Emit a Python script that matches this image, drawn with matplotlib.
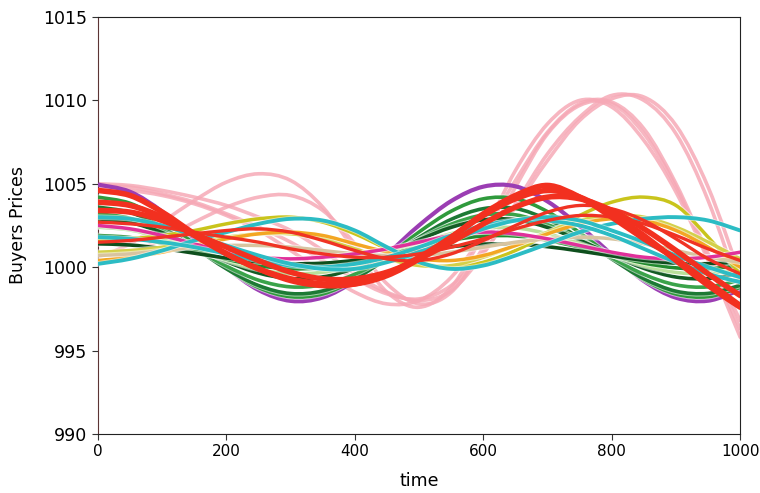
import matplotlib
matplotlib.use("Agg")
import matplotlib.pyplot as plt
import matplotlib.patheffects as pe
from matplotlib.path import Path
from matplotlib.patches import PathPatch

time = [0, 50, 100, 150, 200, 250, 300, 350, 400, 450, 500,
        550, 600, 650, 700, 750, 800, 850, 900, 950, 1000]

# pink, large swings
pink_1 = [1000.6, 1001.4, 1002.7, 1004.0, 1005.1, 1005.6, 1005.2, 1003.6, 1001.0, 998.5, 997.6,
          998.8, 1002.0, 1005.8, 1008.6, 1010.0, 1009.6, 1007.6, 1004.5, 1000.4, 995.8]
pink_2 = [1000.3, 1000.8, 1001.7, 1002.7, 1003.6, 1004.2, 1004.3, 1003.4, 1001.4, 999.0, 997.8,
          998.5, 1001.2, 1004.8, 1008.0, 1009.7, 1009.8, 1008.0, 1004.8, 1000.6, 996.3]
pink_3 = [1005.0, 1004.9, 1004.6, 1004.2, 1003.7, 1003.0, 1002.2, 1001.0, 999.6, 998.5, 998.0,
          998.6, 1000.8, 1003.8, 1006.8, 1009.0, 1010.3, 1010.0, 1008.0, 1004.0, 998.5]
pink_4 = [1004.7, 1004.6, 1004.3, 1003.8, 1003.1, 1002.2, 1001.0, 999.7, 998.5, 997.8, 998.0,
          999.4, 1002.0, 1005.2, 1008.1, 1009.8, 1009.9, 1008.3, 1005.0, 1000.8, 996.8]
pink_5 = [1004.9, 1004.8, 1004.4, 1003.9, 1003.2, 1002.4, 1001.5, 1000.4, 999.3, 998.4, 998.1,
          998.9, 1000.9, 1003.6, 1006.4, 1008.8, 1010.1, 1010.2, 1008.5, 1004.8, 999.5]

purple = [1004.95, 1004.52, 1003.33, 1001.68, 999.97, 998.63, 997.98, 998.19, 999.20, 1000.77, 1002.51,
          1003.97, 1004.83, 1004.85, 1003.94, 1002.47, 1000.76, 999.17, 998.17, 997.99, 998.64]

green_1 = [1003.6, 1003.28, 1002.40, 1001.17, 999.90, 998.90, 998.42, 998.58, 999.33, 1000.50, 1001.79,
           1002.87, 1003.51, 1003.52, 1002.85, 1001.75, 1000.49, 999.31, 998.56, 998.43, 998.91]
green_2 = [1003.2, 1002.93, 1002.18, 1001.15, 1000.07, 999.22, 998.82, 998.95, 999.58, 1000.58, 1001.66,
           1002.58, 1003.13, 1003.14, 1002.56, 1001.64, 1000.57, 999.57, 998.94, 998.82, 999.23]
green_3 = [1002.9, 1002.68, 1002.07, 1001.22, 1000.34, 999.65, 999.32, 999.42, 999.94, 1000.75, 1001.64,
           1002.39, 1002.84, 1002.85, 1002.38, 1001.62, 1000.75, 999.93, 999.41, 999.32, 999.65]
green_4 = [1002.4, 1002.23, 1001.75, 1001.09, 1000.41, 999.87, 999.61, 999.70, 1000.10, 1000.73, 1001.42,
           1002.01, 1002.35, 1002.36, 1002.00, 1001.41, 1000.73, 1000.09, 999.69, 999.62, 999.87]
green_5 = [1001.9, 1001.78, 1001.44, 1000.97, 1000.48, 1000.09, 999.91, 999.97, 1000.26, 1000.71, 1001.20,
           1001.62, 1001.87, 1001.87, 1001.61, 1001.19, 1000.70, 1000.25, 999.96, 999.91, 1000.10]
green_6 = [1001.4, 1001.33, 1001.12, 1000.84, 1000.55, 1000.32, 1000.21, 1000.24, 1000.41, 1000.68, 1000.98,
           1001.23, 1001.38, 1001.38, 1001.23, 1000.97, 1000.68, 1000.41, 1000.24, 1000.21, 1000.32]
green_7 = [1004.2, 1003.83, 1002.81, 1001.40, 999.93, 998.78, 998.23, 998.40, 999.27, 1000.62, 1002.11,
           1003.36, 1004.10, 1004.11, 1003.33, 1002.07, 1000.61, 999.25, 998.39, 998.23, 998.79]

red_1 = [1004.6, 1004.3, 1003.3, 1002.0, 1000.8, 999.9, 999.3, 999.0, 999.0, 999.5, 1000.5,
         1001.8, 1003.2, 1004.3, 1004.9, 1004.2, 1003.0, 1001.7, 1000.5, 999.1, 997.7]
red_2 = [1003.9, 1003.7, 1003.0, 1001.9, 1000.8, 999.9, 999.2, 998.9, 999.0, 999.6, 1000.6,
         1001.8, 1003.1, 1004.1, 1004.6, 1004.2, 1003.2, 1001.9, 1000.4, 998.9, 997.6]
red_3 = [1003.4, 1003.3, 1002.8, 1002.0, 1001.2, 1000.4, 999.7, 999.3, 999.3, 999.7, 1000.5,
         1001.5, 1002.6, 1003.6, 1004.2, 1004.1, 1003.4, 1002.3, 1001.0, 999.6, 998.3]
red_4 = [1002.7, 1002.6, 1002.4, 1002.1, 1001.8, 1001.5, 1001.1, 1000.8, 1000.6, 1000.6, 1000.8,
         1001.2, 1001.7, 1002.3, 1002.8, 1003.1, 1003.0, 1002.6, 1001.9, 1001.1, 1000.4]
red_5 = [1001.5, 1001.6, 1001.8, 1002.0, 1002.2, 1002.3, 1002.1, 1001.6, 1001.0, 1000.5, 1000.4,
         1000.8, 1001.6, 1002.5, 1003.3, 1003.7, 1003.5, 1002.8, 1001.7, 1000.5, 999.6]

yellow_1 = [1001.6, 1001.7, 1001.9, 1002.2, 1002.6, 1002.9, 1003.0, 1002.7, 1002.0, 1001.1, 1000.3,
            1000.0, 1000.3, 1001.0, 1002.0, 1003.1, 1003.9, 1004.2, 1003.7, 1001.8, 999.6]
yellow_2 = [1000.9, 1001.0, 1001.2, 1001.5, 1001.8, 1002.0, 1002.0, 1001.7, 1001.1, 1000.5, 1000.1,
            1000.1, 1000.6, 1001.3, 1002.1, 1002.8, 1003.1, 1003.0, 1002.4, 1001.5, 1000.5]
orange_1 = [1000.4, 1000.6, 1000.9, 1001.3, 1001.7, 1002.0, 1002.1, 1001.9, 1001.4, 1000.9, 1000.5,
            1000.4, 1000.7, 1001.3, 1002.0, 1002.6, 1002.9, 1002.8, 1002.2, 1001.2, 1000.0]

cyan_1 = [1000.2, 1000.5, 1001.0, 1001.6, 1002.1, 1002.6, 1002.9, 1002.8, 1002.2, 1001.2, 1000.3,
          999.9, 1000.1, 1000.7, 1001.4, 1002.1, 1002.6, 1002.9, 1003.0, 1002.8, 1002.2]
cyan_2 = [1001.8, 1001.7, 1001.5, 1001.2, 1000.8, 1000.4, 1000.1, 1000.0, 1000.2, 1000.6, 1001.2,
          1001.9, 1002.5, 1002.8, 1002.8, 1002.5, 1001.9, 1001.1, 1000.3, 999.6, 999.1]
cyan_3 = [1003.0, 1002.9, 1002.5, 1001.9, 1001.3, 1000.7, 1000.2, 999.9, 999.9, 1000.3, 1000.9,
          1001.6, 1002.3, 1002.8, 1003.0, 1002.8, 1002.2, 1001.5, 1000.7, 1000.0, 999.4]

magenta_1 = [1002.5, 1002.3, 1001.9, 1001.4, 1000.9, 1000.6, 1000.5, 1000.6, 1000.8, 1001.1, 1001.5,
             1001.9, 1002.1, 1002.0, 1001.7, 1001.3, 1000.9, 1000.6, 1000.5, 1000.6, 1000.9]
tan_1 = [1000.7, 1000.8, 1001.0, 1001.2, 1001.3, 1001.3, 1001.2, 1001.0, 1000.8, 1000.7, 1000.7,
         1000.9, 1001.2, 1001.5, 1001.7, 1001.8, 1001.7, 1001.4, 1001.0, 1000.6, 1000.3]

x_ticks = [0, 200, 400, 600, 800, 1000]
y_ticks = [990, 995, 1000, 1005, 1010, 1015]


def smooth_line(ax, x, y, color, lw, zorder, alpha=1.0, effects=None):
    """Draw the series as a smooth curve through its own points (Catmull-Rom as Bezier)."""
    n = len(x)
    verts = [(x[0], y[0])]
    codes = [Path.MOVETO]
    for i in range(n - 1):
        a = i - 1 if i > 0 else i
        d = i + 2 if i + 2 < n else i + 1
        c1 = (x[i] + (x[i + 1] - x[a]) / 6.0, y[i] + (y[i + 1] - y[a]) / 6.0)
        c2 = (x[i + 1] - (x[d] - x[i]) / 6.0, y[i + 1] - (y[d] - y[i]) / 6.0)
        verts += [c1, c2, (x[i + 1], y[i + 1])]
        codes += [Path.CURVE4] * 3
    patch = PathPatch(Path(verts, codes), facecolor="none", edgecolor=color,
                      lw=lw, alpha=alpha, zorder=zorder, capstyle="round", joinstyle="round")
    if effects:
        patch.set_path_effects(effects)
    ax.add_patch(patch)


fig = plt.figure(figsize=(7.6, 4.93), dpi=100)
ax = fig.add_axes([0.129, 0.1197, 0.845, 0.8458])

halo = [pe.Stroke(linewidth=4.0, foreground="white", alpha=0.55), pe.Normal()]

pink_color = "#f6a9b6"
for s in (pink_1, pink_2, pink_3, pink_4, pink_5):
    smooth_line(ax, time, s, pink_color, 2.6, 2, alpha=0.85)

greens = [(green_7, "#2f9a3c"), (green_1, "#1d7a35"), (green_2, "#3aa34a"),
          (green_3, "#145c25"), (green_4, "#b9df9a"), (green_5, "#228b2e"),
          (green_6, "#0e4f1d")]
for s, c in greens:
    smooth_line(ax, time, s, c, 2.6, 3, effects=halo)

smooth_line(ax, time, purple, "#9b3db3", 3.0, 2.8)

for s, c in [(yellow_1, "#c9c41c"), (yellow_2, "#d4d04a"), (orange_1, "#f3a623"),
             (tan_1, "#d8c4a0"), (magenta_1, "#e0309a")]:
    smooth_line(ax, time, s, c, 2.5, 3.5, effects=halo)

for s in (cyan_1, cyan_2, cyan_3):
    smooth_line(ax, time, s, "#2cbcc4", 2.8, 4, effects=halo)

for s in (red_4, red_5):
    smooth_line(ax, time, s, "#f03324", 2.4, 4.2)
for s in (red_1, red_2, red_3):
    smooth_line(ax, time, s, "#f2301f", 4.0, 4.5)

ax.set_xlim(0, 1000)
ax.set_ylim(990, 1015)
ax.set_xticks(x_ticks)
ax.set_yticks(y_ticks)
ax.tick_params(length=4, color="#333333")
ax.tick_params(axis="x", labelsize=11)
ax.tick_params(axis="y", labelsize=12.5)
ax.set_xlabel("time", fontsize=12.5, labelpad=9)
ax.set_ylabel("Buyers Prices", fontsize=12.5, labelpad=12)
for side in ("top", "right", "bottom"):
    ax.spines[side].set_color("#222222")
ax.spines["left"].set_color("#5c3535")

fig.savefig("out.png", dpi=100)
